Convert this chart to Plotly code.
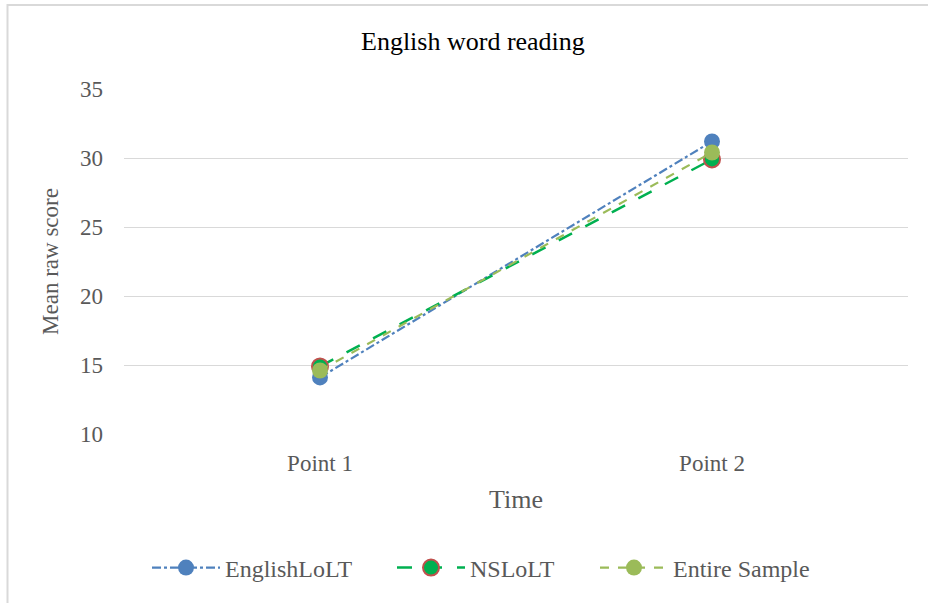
import plotly.graph_objects as go

# Mean raw scores at the two measurement points
time_points = ["Point 1", "Point 2"]
english_lolt = [14.1, 31.2]
ns_lolt = [14.9, 29.9]
entire_sample = [14.6, 30.4]

y_ticks = [10, 15, 20, 25, 30, 35]

FONT = "Liberation Serif, Times New Roman, serif"
GREY = "#595959"

PLOT_L, PLOT_W = 124, 784
PLOT_B, PLOT_H = 434, 345


def px_x(p):
    return (p - PLOT_L) / PLOT_W


def px_y(p):
    return (PLOT_B - p) / PLOT_H


fig = go.Figure()

fig.add_trace(go.Scatter(
    x=time_points, y=english_lolt, name="EnglishLoLT", mode="lines+markers",
    line=dict(color="#4F81BD", width=2.2, dash="dashdot"),
    marker=dict(size=16, color="#4F81BD", line=dict(width=0)),
    legend="legend",
))
fig.add_trace(go.Scatter(
    x=time_points, y=ns_lolt, name="NSLoLT", mode="lines+markers",
    line=dict(color="#00B050", width=2.5, dash="longdash"),
    marker=dict(size=16, color="#00B050", line=dict(width=2, color="#C0504D")),
    legend="legend2",
))
fig.add_trace(go.Scatter(
    x=time_points, y=entire_sample, name="Entire Sample", mode="lines+markers",
    line=dict(color="#9BBB59", width=2.2, dash="dash"),
    marker=dict(size=16, color="#9BBB59", line=dict(width=0)),
    legend="legend3",
))


def legend_box(left_px):
    return dict(
        orientation="h", x=px_x(left_px), xanchor="left",
        y=px_y(568), yanchor="middle", bgcolor="rgba(0,0,0,0)",
        font=dict(family=FONT, size=24, color=GREY), itemwidth=68,
    )


fig.update_layout(
    width=928, height=603,
    margin=dict(l=PLOT_L, r=20, t=89, b=169),
    paper_bgcolor="white", plot_bgcolor="white",
    font=dict(family=FONT, size=22, color=GREY),
    showlegend=True,
    legend=legend_box(147),
    legend2=legend_box(392),
    legend3=legend_box(595),
    xaxis=dict(
        type="category", range=[-0.5, 1.5], showgrid=False, zeroline=False,
        showline=False, ticks="", tickfont=dict(size=23, color=GREY),
        ticklabelstandoff=13,
        title=dict(text="Time", font=dict(size=26, color=GREY), standoff=14),
    ),
    yaxis=dict(
        range=[10, 35], tickvals=y_ticks, showgrid=True, gridcolor="#D9D9D9",
        gridwidth=1.3, zeroline=False, showline=False, ticks="",
        tickfont=dict(size=23, color=GREY), ticklabelstandoff=20,
        title=dict(text="Mean raw score", font=dict(size=23, color=GREY), standoff=14),
    ),
    annotations=[dict(
        text="English word reading", xref="paper", yref="paper",
        x=px_x(473), y=px_y(42), xanchor="center", yanchor="middle",
        showarrow=False, font=dict(family=FONT, size=26, color="#000000"),
    )],
    shapes=[dict(
        type="rect", xref="paper", yref="paper", layer="below",
        x0=px_x(7.5), x1=1.2, y0=-1.0, y1=px_y(5),
        line=dict(color="#D9D9D9", width=2),
    )],
)

fig.write_html("out.html")
